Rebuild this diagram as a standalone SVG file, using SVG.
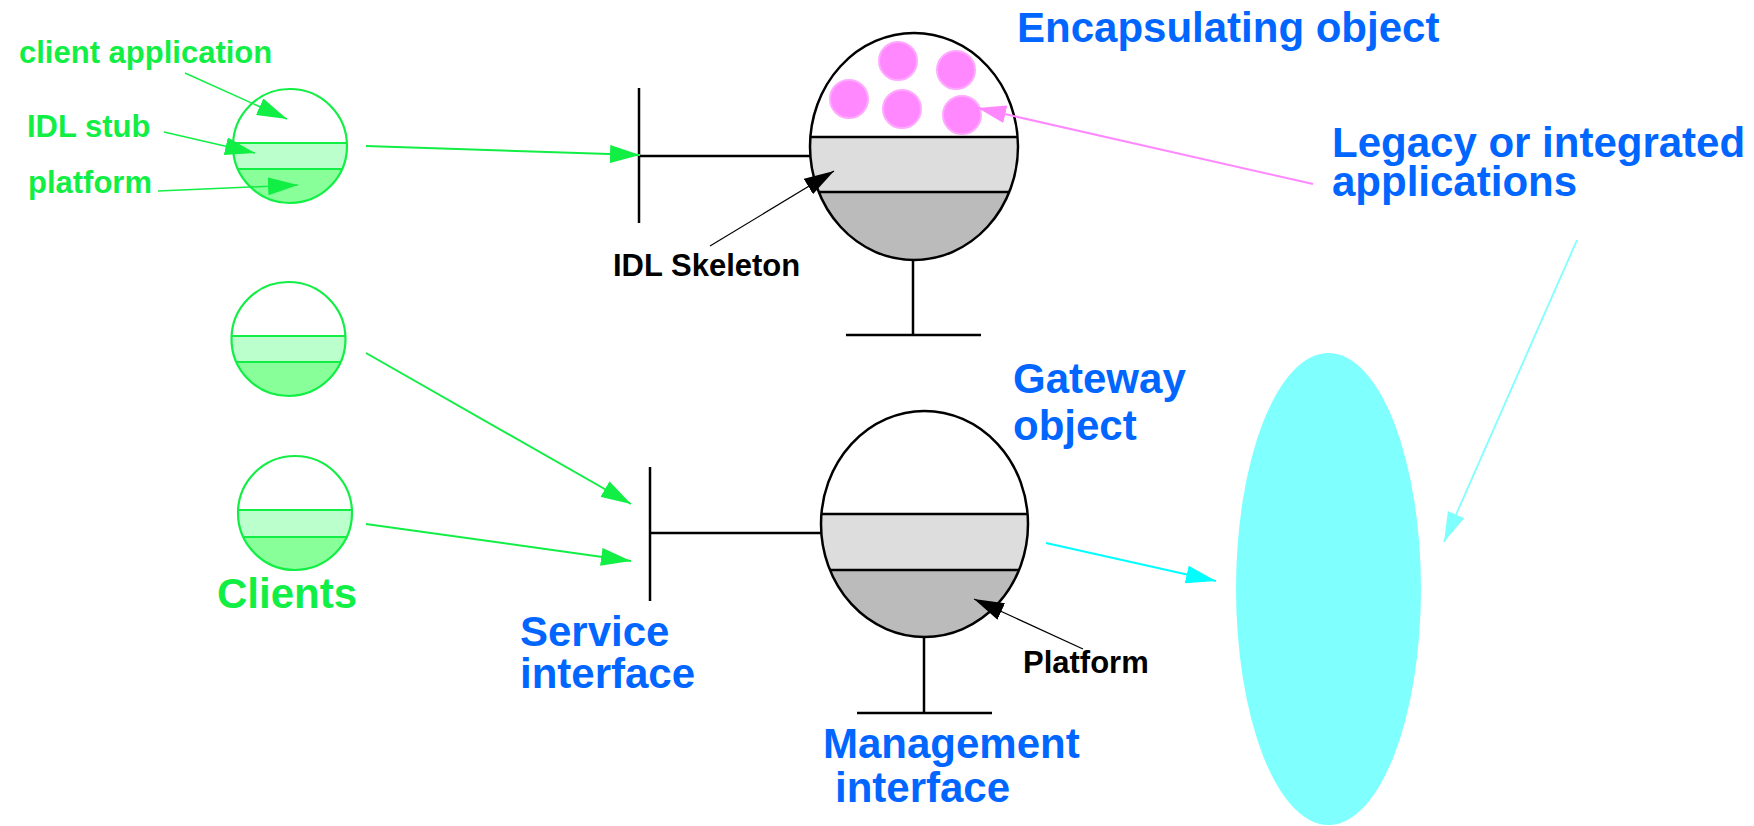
<svg xmlns="http://www.w3.org/2000/svg" width="1754" height="826" viewBox="0 0 1754 826">
  <style>
    text { font-family: "Liberation Sans", Arial, Helvetica, sans-serif; font-weight: bold; }
    .lbl-green { fill: #11EE44; font-size: 31px; }
    .big-green { fill: #11EE44; font-size: 42px; }
    .lbl-black { fill: #000000; font-size: 31px; }
    .lbl-blue { fill: #0066FF; font-size: 42px; }
    .outline { fill: none; stroke: #000000; stroke-width: 2.5; }
    .bar { stroke: #000000; stroke-width: 2.5; fill: none; }
    .gline { stroke: #11EE44; stroke-width: 2; fill: none; }
    .client-ring { fill: none; stroke: #11EE44; stroke-width: 2.2; }
    .pink-dot { fill: #FF88FF; stroke: #FFAAFF; stroke-width: 2; }
  </style>
  <defs>
    <marker id="ah-green" markerUnits="userSpaceOnUse" markerWidth="30" markerHeight="18" refX="30" refY="9" orient="auto">
      <path d="M0,0 L30,9 L0,18 Z" fill="#11EE44"/>
    </marker>
    <marker id="ah-black" markerUnits="userSpaceOnUse" markerWidth="30" markerHeight="18" refX="30" refY="9" orient="auto">
      <path d="M0,0 L30,9 L0,18 Z" fill="#000000"/>
    </marker>
    <marker id="ah-pink" markerUnits="userSpaceOnUse" markerWidth="28" markerHeight="18" refX="28" refY="9" orient="auto">
      <path d="M0,0 L28,9 L0,18 Z" fill="#FF88FF"/>
    </marker>
    <marker id="ah-cyan" markerUnits="userSpaceOnUse" markerWidth="30" markerHeight="18" refX="30" refY="9" orient="auto">
      <path d="M0,0 L30,9 L0,18 Z" fill="#00FFFF"/>
    </marker>
    <marker id="ah-lcyan" markerUnits="userSpaceOnUse" markerWidth="30" markerHeight="18" refX="30" refY="9" orient="auto">
      <path d="M0,0 L30,9 L0,18 Z" fill="#80FFFF"/>
    </marker>
    <clipPath id="clip-enc"><ellipse cx="914" cy="146.5" rx="104" ry="113.5"/></clipPath>
    <clipPath id="clip-gw"><ellipse cx="924.5" cy="524" rx="103.5" ry="113"/></clipPath>
    <clipPath id="clip-c1"><circle cx="290" cy="146" r="57"/></clipPath>
    <clipPath id="clip-c2"><circle cx="288.5" cy="339" r="57"/></clipPath>
    <clipPath id="clip-c3"><circle cx="295" cy="513" r="57"/></clipPath>
  </defs>

  <rect x="0" y="0" width="1754" height="826" fill="#FFFFFF"/>

  <!-- legacy / integrated application pool -->
  <g id="legacy-pool">
    <ellipse cx="1328.5" cy="589" rx="92.5" ry="236" fill="#80FFFF"/>
  </g>

  <!-- client objects: app / stub / platform layers -->
  <g id="client-1">
    <g clip-path="url(#clip-c1)">
      <rect x="230" y="143" width="120" height="26" fill="#BBFFCC"/>
      <rect x="230" y="169" width="120" height="40" fill="#88FF99"/>
      <line x1="230" y1="143" x2="350" y2="143" class="gline" stroke-width="2.5"/>
      <line x1="230" y1="169" x2="350" y2="169" class="gline"/>
    </g>
    <circle cx="290" cy="146" r="57" class="client-ring"/>
  </g>
  <g id="client-2">
    <g clip-path="url(#clip-c2)">
      <rect x="228" y="336" width="120" height="26" fill="#BBFFCC"/>
      <rect x="228" y="362" width="120" height="40" fill="#88FF99"/>
      <line x1="228" y1="336" x2="348" y2="336" class="gline" stroke-width="2.5"/>
      <line x1="228" y1="362" x2="348" y2="362" class="gline"/>
    </g>
    <circle cx="288.5" cy="339" r="57" class="client-ring"/>
  </g>
  <g id="client-3">
    <g clip-path="url(#clip-c3)">
      <rect x="235" y="510" width="120" height="27" fill="#BBFFCC"/>
      <rect x="235" y="537" width="120" height="40" fill="#88FF99"/>
      <line x1="235" y1="510" x2="355" y2="510" class="gline" stroke-width="2.5"/>
      <line x1="235" y1="537" x2="355" y2="537" class="gline"/>
    </g>
    <circle cx="295" cy="513" r="57" class="client-ring"/>
  </g>
  <g id="clients-label">
    <text x="217" y="608" class="big-green">Clients</text>
  </g>
  <g id="client-layer-labels">
    <text x="19" y="63" class="lbl-green">client application</text>
    <text x="27" y="137" class="lbl-green">IDL stub</text>
    <text x="28" y="193" class="lbl-green">platform</text>
  </g>

  <!-- encapsulating object -->
  <g id="encapsulating-object">
    <g clip-path="url(#clip-enc)">
      <rect x="805" y="137" width="220" height="55" fill="#DDDDDD"/>
      <rect x="805" y="192" width="220" height="75" fill="#BBBBBB"/>
      <line x1="805" y1="137" x2="1025" y2="137" class="bar"/>
      <line x1="805" y1="192" x2="1025" y2="192" class="bar"/>
    </g>
    <ellipse cx="914" cy="146.5" rx="104" ry="113.5" class="outline"/>
    <circle cx="898" cy="61" r="19" class="pink-dot"/>
    <circle cx="956" cy="70" r="19" class="pink-dot"/>
    <circle cx="849" cy="99" r="19" class="pink-dot"/>
    <circle cx="902" cy="109" r="19" class="pink-dot"/>
    <circle cx="962" cy="115" r="19" class="pink-dot"/>
    <!-- service interface -->
    <line x1="639" y1="88" x2="639" y2="223" class="bar"/>
    <line x1="639" y1="156" x2="810" y2="156" class="bar"/>
    <!-- management interface -->
    <line x1="913" y1="260" x2="913" y2="335" class="bar"/>
    <line x1="846" y1="335" x2="981" y2="335" class="bar"/>
    <text x="1017" y="42" class="lbl-blue">Encapsulating object</text>
  </g>
  <g id="idl-skeleton-label">
    <text x="613" y="276" class="lbl-black">IDL Skeleton</text>
  </g>

  <!-- gateway object -->
  <g id="gateway-object">
    <g clip-path="url(#clip-gw)">
      <rect x="815" y="514" width="220" height="56" fill="#DDDDDD"/>
      <rect x="815" y="570" width="220" height="75" fill="#BBBBBB"/>
      <line x1="815" y1="514" x2="1035" y2="514" class="bar"/>
      <line x1="815" y1="570" x2="1035" y2="570" class="bar"/>
    </g>
    <ellipse cx="924.5" cy="524" rx="103.5" ry="113" class="outline"/>
    <line x1="650" y1="467" x2="650" y2="601" class="bar"/>
    <line x1="650" y1="533" x2="821" y2="533" class="bar"/>
    <line x1="924" y1="637" x2="924" y2="713" class="bar"/>
    <line x1="857" y1="713" x2="992" y2="713" class="bar"/>
    <text class="lbl-blue"><tspan x="1013" y="393">Gateway</tspan><tspan x="1013" y="440">object</tspan></text>
  </g>
  <g id="service-interface-label">
    <text class="lbl-blue"><tspan x="520" y="646">Service</tspan><tspan x="520" y="688">interface</tspan></text>
  </g>
  <g id="management-interface-label">
    <text class="lbl-blue"><tspan x="823" y="758">Management</tspan><tspan x="835" y="802">interface</tspan></text>
  </g>
  <g id="platform-label">
    <text x="1023" y="673" class="lbl-black">Platform</text>
  </g>
  <g id="legacy-label">
    <text class="lbl-blue" font-size="41"><tspan x="1332" y="157">Legacy or integrated</tspan><tspan x="1332" y="196">applications</tspan></text>
  </g>

  <!-- connectors -->
  <g id="connectors">
    <line x1="185" y1="73" x2="287" y2="119" stroke="#11EE44" stroke-width="1.5" marker-end="url(#ah-green)"/>
    <line x1="164" y1="132" x2="255" y2="153" stroke="#11EE44" stroke-width="1.5" marker-end="url(#ah-green)"/>
    <line x1="158" y1="191" x2="298" y2="185" stroke="#11EE44" stroke-width="1.5" marker-end="url(#ah-green)"/>
    <line x1="366" y1="146" x2="640" y2="155" class="gline" marker-end="url(#ah-green)"/>
    <line x1="366" y1="353" x2="631" y2="504" class="gline" marker-end="url(#ah-green)"/>
    <line x1="366" y1="524" x2="631" y2="561" class="gline" marker-end="url(#ah-green)"/>
    <line x1="710" y1="246" x2="834" y2="171" stroke="#000000" stroke-width="1.2" marker-end="url(#ah-black)"/>
    <line x1="1083" y1="649" x2="974" y2="599" stroke="#000000" stroke-width="1.2" marker-end="url(#ah-black)"/>
    <line x1="1313" y1="184" x2="978" y2="108" stroke="#FF88FF" stroke-width="2" marker-end="url(#ah-pink)"/>
    <line x1="1046" y1="543" x2="1216" y2="581" stroke="#00FFFF" stroke-width="2.2" marker-end="url(#ah-cyan)"/>
    <line x1="1577" y1="240" x2="1444" y2="542" stroke="#80FFFF" stroke-width="1.8" marker-end="url(#ah-lcyan)"/>
  </g>
</svg>
